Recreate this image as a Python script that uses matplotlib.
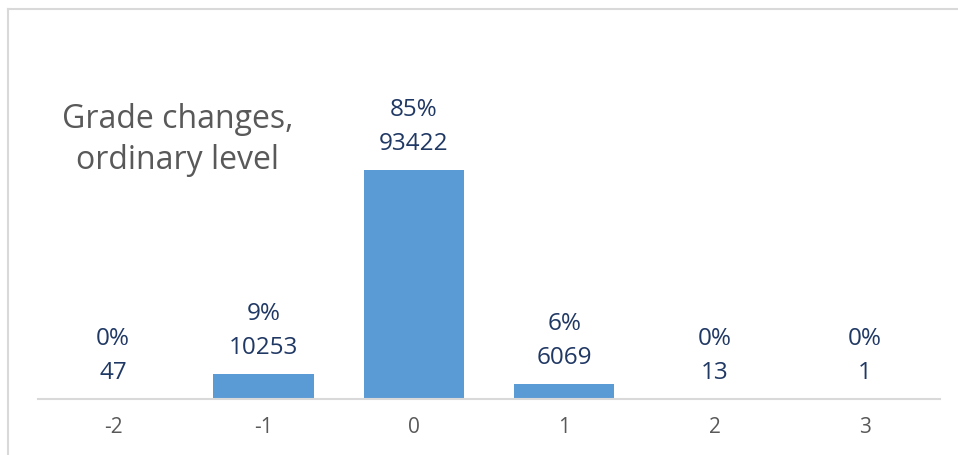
import matplotlib
matplotlib.use('Agg')
import matplotlib.pyplot as plt
from matplotlib.lines import Line2D

grades = ["-2", "-1", "0", "1", "2", "3"]
counts = [47, 10253, 93422, 6069, 13, 1]
title = "Grade changes,\nordinary level"

bar_color = "#5B9BD5"
label_color = "#203864"
gray_text = "#595959"
line_gray = "#D9D9D9"

plt.rcParams['font.family'] = ['Open Sans', 'DejaVu Sans']

fig = plt.figure(figsize=(9.58, 4.55), dpi=100)
ax = fig.add_axes([38 / 958, 56 / 455, 902 / 958, 245 / 455])

total = sum(counts)
xs = list(range(len(grades)))
ax.bar(xs, counts, width=0.667, color=bar_color)

for x, c in zip(xs, counts):
    pct = "%d%%" % round(100.0 * c / total)
    ax.annotate(str(c), xy=(x, c), xytext=(0, 14.4), textcoords='offset points',
                ha='center', va='baseline', fontsize=17.5, color=label_color,
                annotation_clip=False)
    ax.annotate(pct, xy=(x, c), xytext=(0, 39), textcoords='offset points',
                ha='center', va='baseline', fontsize=17.5, color=label_color,
                annotation_clip=False)

ax.set_xlim(-0.5, len(grades) - 0.5)
ax.set_ylim(0, 100000)
ax.set_xticks(xs)
ax.set_xticklabels(grades, fontsize=15, color=gray_text)
ax.tick_params(axis='x', length=0, pad=13)
ax.set_yticks([])
for side in ['top', 'right', 'left']:
    ax.spines[side].set_visible(False)
ax.spines['bottom'].set_color(line_gray)
ax.spines['bottom'].set_linewidth(1.5)

fig.text(178 / 958, 1 - 140 / 455, title, ha='center', va='center',
         fontsize=23, color=gray_text, linespacing=1.3)

# chart border (cropped on right and bottom)
fig.add_artist(Line2D([8 / 958, 1], [1 - 9 / 455, 1 - 9 / 455], color=line_gray, lw=1.5,
                      transform=fig.transFigure))
fig.add_artist(Line2D([8 / 958, 8 / 958], [0, 1 - 9 / 455], color=line_gray, lw=1.5,
                      transform=fig.transFigure))

fig.savefig("out.png", dpi=100)
